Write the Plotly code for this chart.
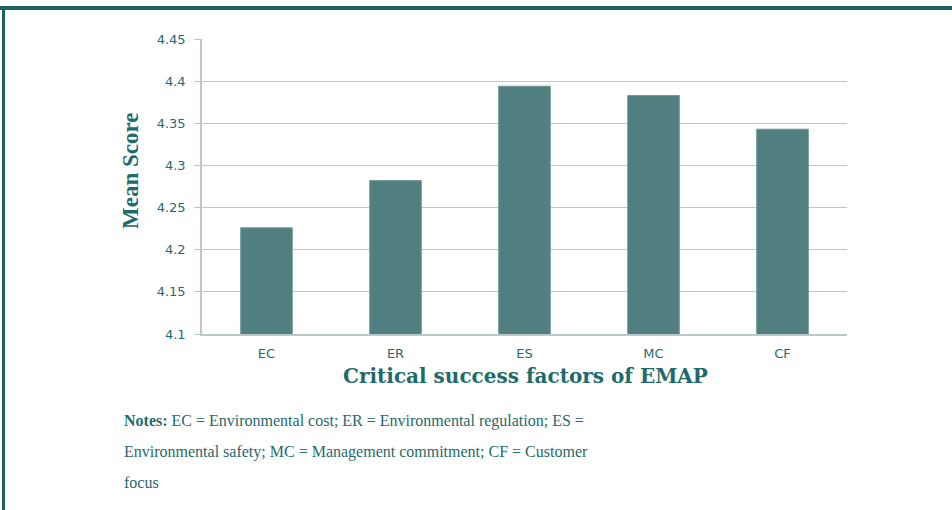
import plotly.graph_objects as go

categories = ["EC", "ER", "ES", "MC", "CF"]
mean_scores = [4.226, 4.282, 4.394, 4.383, 4.343]
y_ticks = [4.1, 4.15, 4.2, 4.25, 4.3, 4.35, 4.4, 4.45]
y_tick_labels = ["4.1", "4.15", "4.2", "4.25", "4.3", "4.35", "4.4", "4.45"]

TEAL = "#1f6a6a"
BAR = "#517f80"
GRID = "#b9c9c9"

W, H = 952, 510
L, R, T, B = 202, 847, 39, 334

def px(x):
    return (x - L) / (R - L)

def py(y):
    return (B - y) / (B - T)

fig = go.Figure(go.Bar(
    x=categories, y=mean_scores,
    marker=dict(color=BAR, line=dict(color="#6f9a9a", width=1)),
    width=0.4,
))

fig.update_layout(
    width=W, height=H,
    margin=dict(l=L, r=W - R, t=T, b=H - B),
    paper_bgcolor="white", plot_bgcolor="white",
    showlegend=False,
    font=dict(family="DejaVu Sans", color=TEAL),
    xaxis=dict(
        showline=True, linecolor=GRID, linewidth=1.5,
        showgrid=False, ticks="", tickfont=dict(size=13, color=TEAL, family="DejaVu Sans"),
        ticklabelstandoff=7,
    ),
    yaxis=dict(
        range=[4.1, 4.45], tickvals=y_ticks, ticktext=y_tick_labels,
        showline=True, linecolor=GRID, linewidth=1.5,
        showgrid=True, gridcolor=GRID, gridwidth=1.2,
        ticks="outside", ticklen=6, tickcolor=GRID,
        tickfont=dict(size=13, color=TEAL, family="DejaVu Sans"),
        ticklabelstandoff=6, zeroline=False,
    ),
    shapes=[
        dict(type="line", xref="paper", yref="paper", x0=px(0), x1=px(952), y0=py(8), y1=py(8),
             line=dict(color="#1a6262", width=4)),
        dict(type="line", xref="paper", yref="paper", x0=px(3.5), x1=px(3.5), y0=py(8), y1=py(512),
             line=dict(color="#1a6262", width=3)),
    ],
    annotations=[
        dict(text="<b>Mean Score</b>", xref="paper", yref="paper", x=px(130), y=py(171),
             textangle=-90, showarrow=False, xanchor="center", yanchor="middle",
             font=dict(family="Liberation Serif", size=23, color=TEAL)),
        dict(text="<b>Critical success factors of EMAP</b>", xref="paper", yref="paper",
             x=px(525), y=py(376), showarrow=False, xanchor="center", yanchor="middle",
             font=dict(family="DejaVu Serif", size=20, color=TEAL)),
        dict(text="<b>Notes:</b> EC = Environmental cost; ER = Environmental regulation; ES =",
             xref="paper", yref="paper", x=px(122), y=py(421), showarrow=False,
             xanchor="left", yanchor="middle",
             font=dict(family="Liberation Serif", size=16, color=TEAL)),
        dict(text="Environmental safety; MC = Management commitment; CF = Customer",
             xref="paper", yref="paper", x=px(122), y=py(452), showarrow=False,
             xanchor="left", yanchor="middle",
             font=dict(family="Liberation Serif", size=16, color=TEAL)),
        dict(text="focus",
             xref="paper", yref="paper", x=px(122), y=py(482), showarrow=False,
             xanchor="left", yanchor="middle",
             font=dict(family="Liberation Serif", size=16, color=TEAL)),
    ],
)

fig.write_html("out.html", config={"displayModeBar": False},
               post_script="document.body.style.margin='0';")
